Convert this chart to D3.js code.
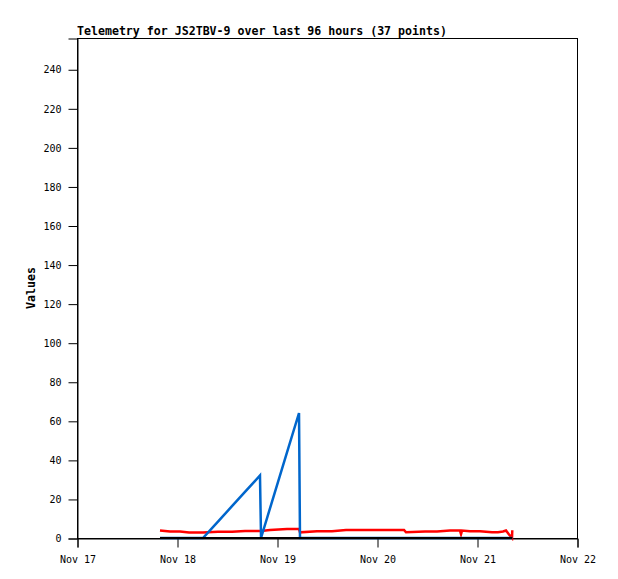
<!DOCTYPE html>
<html><head><meta charset="utf-8">
<script src="https://cdn.jsdelivr.net/npm/d3@7"></script>
<style>body{margin:0;background:#fff}</style>
</head><body>
<svg id="c" width="618" height="579"></svg>
<script>
const title = "Telemetry for JS2TBV-9 over last 96 hours (37 points)";
const times = ["11-17 19:55","11-17 22:19","11-18 00:43","11-18 02:53","11-18 06:14","11-18 09:50","11-18 13:12","11-18 16:19","11-18 19:55","11-18 20:10","11-18 22:19","11-19 02:24","11-19 05:17","11-19 05:31","11-19 09:36","11-19 13:12","11-19 16:34","11-19 21:07","11-20 01:55","11-20 04:19","11-20 06:29","11-20 06:58","11-20 11:31","11-20 14:24","11-20 17:31","11-20 19:55","11-20 20:10","11-20 20:24","11-20 22:19","11-21 00:43","11-21 03:36","11-21 05:02","11-21 06:14","11-21 06:58","11-21 07:41","11-21 08:24","11-21 08:28"];
const redValues = [3.8,3.3,3.3,2.8,2.8,3.2,3.2,3.6,3.6,3.6,4.1,4.6,4.6,2.9,3.4,3.4,4.1,4.1,4.1,4.1,4.1,2.9,3.3,3.3,3.8,3.8,2.0,3.8,3.4,3.4,2.9,2.9,3.3,3.8,1.8,0,4];
const blueValues = [0,0,0,0,0,8.4,16.3,23.6,32,0,15.2,43.8,64,0,0,0,0,0,0,0,0,0,0,0,0,0,0,0,0,0,0,0,0,0,0,0,0];
const blackValues = [0,0,0,0,0,0,0,0,0,0,0,0,0,0,0,0,0,0,0,0,0,0,0,0,0,0,0,0,0,0,0,0,0,0,0,0,0];
const xTickLabels = ["Nov 17","Nov 18","Nov 19","Nov 20","Nov 21","Nov 22"];
const yTicks = [0,20,40,60,80,100,120,140,160,180,200,220,240];

const parse = d3.timeParse("%Y-%m-%d %H:%M");
const dates = times.map(t => parse("2024-" + t));
const svg = d3.select("#c");
const L = 77, R = 577, T = 38, B = 538;
const x = d3.scaleTime().domain([new Date(2024,10,17), new Date(2024,10,22)]).range([L, R]);
const y = d3.scaleLinear().domain([0, 256]).range([B, T]);
const font = "'DejaVu Sans Mono', monospace";

svg.append("rect").attr("x", L + 0.5).attr("y", T + 0.5).attr("width", R - L).attr("height", B - T)
  .attr("fill", "none").attr("stroke", "#000").attr("stroke-width", 1);

const xTickDates = xTickLabels.map((_, i) => new Date(2024, 10, 17 + i));
const xAxis = svg.append("g").attr("transform", `translate(0.5,${B + 0.5})`)
  .call(d3.axisBottom(x).tickValues(xTickDates).tickSize(9).tickPadding(8)
    .tickFormat((d, i) => xTickLabels[i]));
const yAxis = svg.append("g").attr("transform", `translate(${L + 0.5},0.5)`)
  .call(d3.axisLeft(y).tickValues(yTicks).tickSize(9).tickPadding(7));
[xAxis, yAxis].forEach(a => {
  a.select(".domain").attr("stroke", "#000");
  a.selectAll(".tick line").attr("stroke", "#000");
  a.selectAll("text").attr("font-family", font).attr("font-size", 10).attr("fill", "#000");
});

const series = [
  {vals: redValues, color: "#ff0000", w: 2.5},
  {vals: blueValues, color: "#0066cc", w: 2.5},
  {vals: blackValues, color: "#000000", w: 2}
];
series.forEach(s => {
  const line = d3.line().x((d, i) => x(dates[i])).y(d => y(d));
  svg.append("path").datum(s.vals).attr("d", line).attr("fill", "none")
    .attr("stroke", s.color).attr("stroke-width", s.w).attr("stroke-linejoin", "miter");
});

svg.append("text").attr("x", L).attr("y", 35).attr("font-family", font)
  .attr("font-size", 11.6).attr("font-weight", "bold").text(title);
svg.append("text").attr("transform", `translate(35,${(T + B) / 2}) rotate(-90)`)
  .attr("text-anchor", "middle").attr("font-family", font).attr("font-size", 11.6)
  .attr("font-weight", "bold").text("Values");
</script>
</body></html>
